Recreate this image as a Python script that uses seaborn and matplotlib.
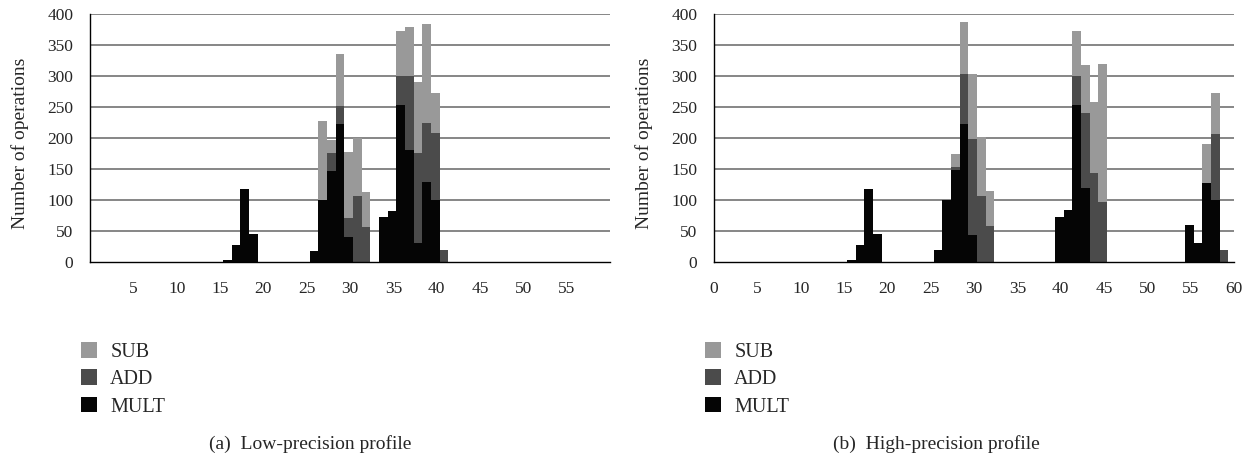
import numpy as np
import pandas as pd
import seaborn as sns
import matplotlib.pyplot as plt
from matplotlib.patches import Patch

# bar positions (category index) and operation counts
pos_low = [16, 17, 18, 19, 26, 27, 28, 29, 30, 31, 32, 34, 35, 36, 37, 38, 39, 40, 41]
mult_low = [3, 27, 117, 45, 18, 100, 146, 222, 41, 0, 0, 72, 83, 253, 180, 31, 129, 100, 0]
add_low = [0, 0, 0, 0, 0, 0, 29, 29, 30, 107, 57, 0, 0, 47, 120, 144, 95, 108, 20]
sub_low = [0, 0, 0, 0, 0, 127, 21, 84, 106, 93, 56, 0, 0, 73, 79, 115, 160, 64, 0]

pos_high = [16, 17, 18, 19, 26, 27, 28, 29, 30, 31, 32, 40, 41, 42, 43, 44, 45, 55, 56, 57, 58, 59]
mult_high = [3, 27, 117, 45, 19, 100, 148, 222, 43, 0, 0, 72, 84, 253, 120, 0, 0, 60, 31, 128, 100, 0]
add_high = [0, 0, 0, 0, 0, 0, 5, 81, 155, 107, 58, 0, 0, 47, 120, 144, 96, 0, 0, 0, 107, 20]
sub_high = [0, 0, 0, 0, 0, 0, 21, 84, 105, 94, 56, 0, 0, 72, 77, 114, 224, 0, 0, 63, 65, 0]

ops = ['SUB', 'ADD', 'MULT']
colors = {'SUB': '#999999', 'ADD': '#4b4b4b', 'MULT': '#050505'}
y_ticks = list(range(0, 401, 50))
x_ticks = list(range(0, 61, 5))
captions = ['(a)  Low-precision profile', '(b)  High-precision profile']


def to_long(pos, mult, add, sub):
    frames = []
    for name, vals in zip(['MULT', 'ADD', 'SUB'], [mult, add, sub]):
        frames.append(pd.DataFrame({'pos': pos, 'count': vals, 'op': name}))
    return pd.concat(frames, ignore_index=True)


sns.set_style('white')
plt.rcParams['font.family'] = ['Liberation Serif', 'DejaVu Serif']
plt.rcParams['font.size'] = 12

fig = plt.figure(figsize=(12.57, 4.58), dpi=100)
ax_a = fig.add_axes([0.0716, 0.428, 0.4137, 0.5415])
ax_b = fig.add_axes([0.5680, 0.428, 0.4137, 0.5415])

panels = [
    (ax_a, to_long(pos_low, mult_low, add_low, sub_low), [str(t) if 0 < t < 60 else '' for t in x_ticks]),
    (ax_b, to_long(pos_high, mult_high, add_high, sub_high), [str(t) for t in x_ticks]),
]

for ax, df, xlabels in panels:
    for y in y_ticks[1:]:
        ax.axhline(y, color='#666666', lw=1.1, zorder=0)
    sns.histplot(data=df, x='pos', weights='count', hue='op', hue_order=ops,
                 multiple='stack', binwidth=1, binrange=(0.35, 60.35),
                 palette=colors, alpha=1, linewidth=0, legend=False,
                 ax=ax, zorder=2)
    ax.set_xlim(0, 60)
    ax.set_ylim(0, 400)
    ax.set_yticks(y_ticks)
    ax.set_xticks(x_ticks)
    ax.set_xticklabels(xlabels)
    ax.set_xlabel('')
    ax.set_ylabel('Number of operations', fontsize=14)
    ax.yaxis.set_label_coords(-0.118, 0.48)
    for s in ['top', 'right']:
        ax.spines[s].set_visible(False)
    for s in ['left', 'bottom']:
        ax.spines[s].set_color('black')
        ax.spines[s].set_linewidth(1.0)
        ax.spines[s].set_zorder(3)
    ax.tick_params(axis='y', direction='out', length=6, width=0.8, color='black', labelsize=12.5, pad=6)
    ax.tick_params(axis='x', direction='out', length=5, width=0.8, color='black', labelsize=12.5, pad=9)

caption_x = [310 / 1257, 936 / 1257]
for i, ax in enumerate([ax_a, ax_b]):
    handles = [Patch(facecolor=colors[o], edgecolor='none', label=o) for o in ops]
    bb = ax.get_position()
    fig.legend(handles=handles, loc='upper left',
               bbox_to_anchor=(bb.x0 - 9 / 1257, 0.253), frameon=False,
               fontsize=14.5, handlelength=0.8, handleheight=0.8,
               handletextpad=0.65, labelspacing=0.38, borderaxespad=0,
               borderpad=0)
    fig.text(caption_x[i], 0.031, captions[i], ha='center', va='center', fontsize=14)

fig.savefig('out.png', dpi=100)
